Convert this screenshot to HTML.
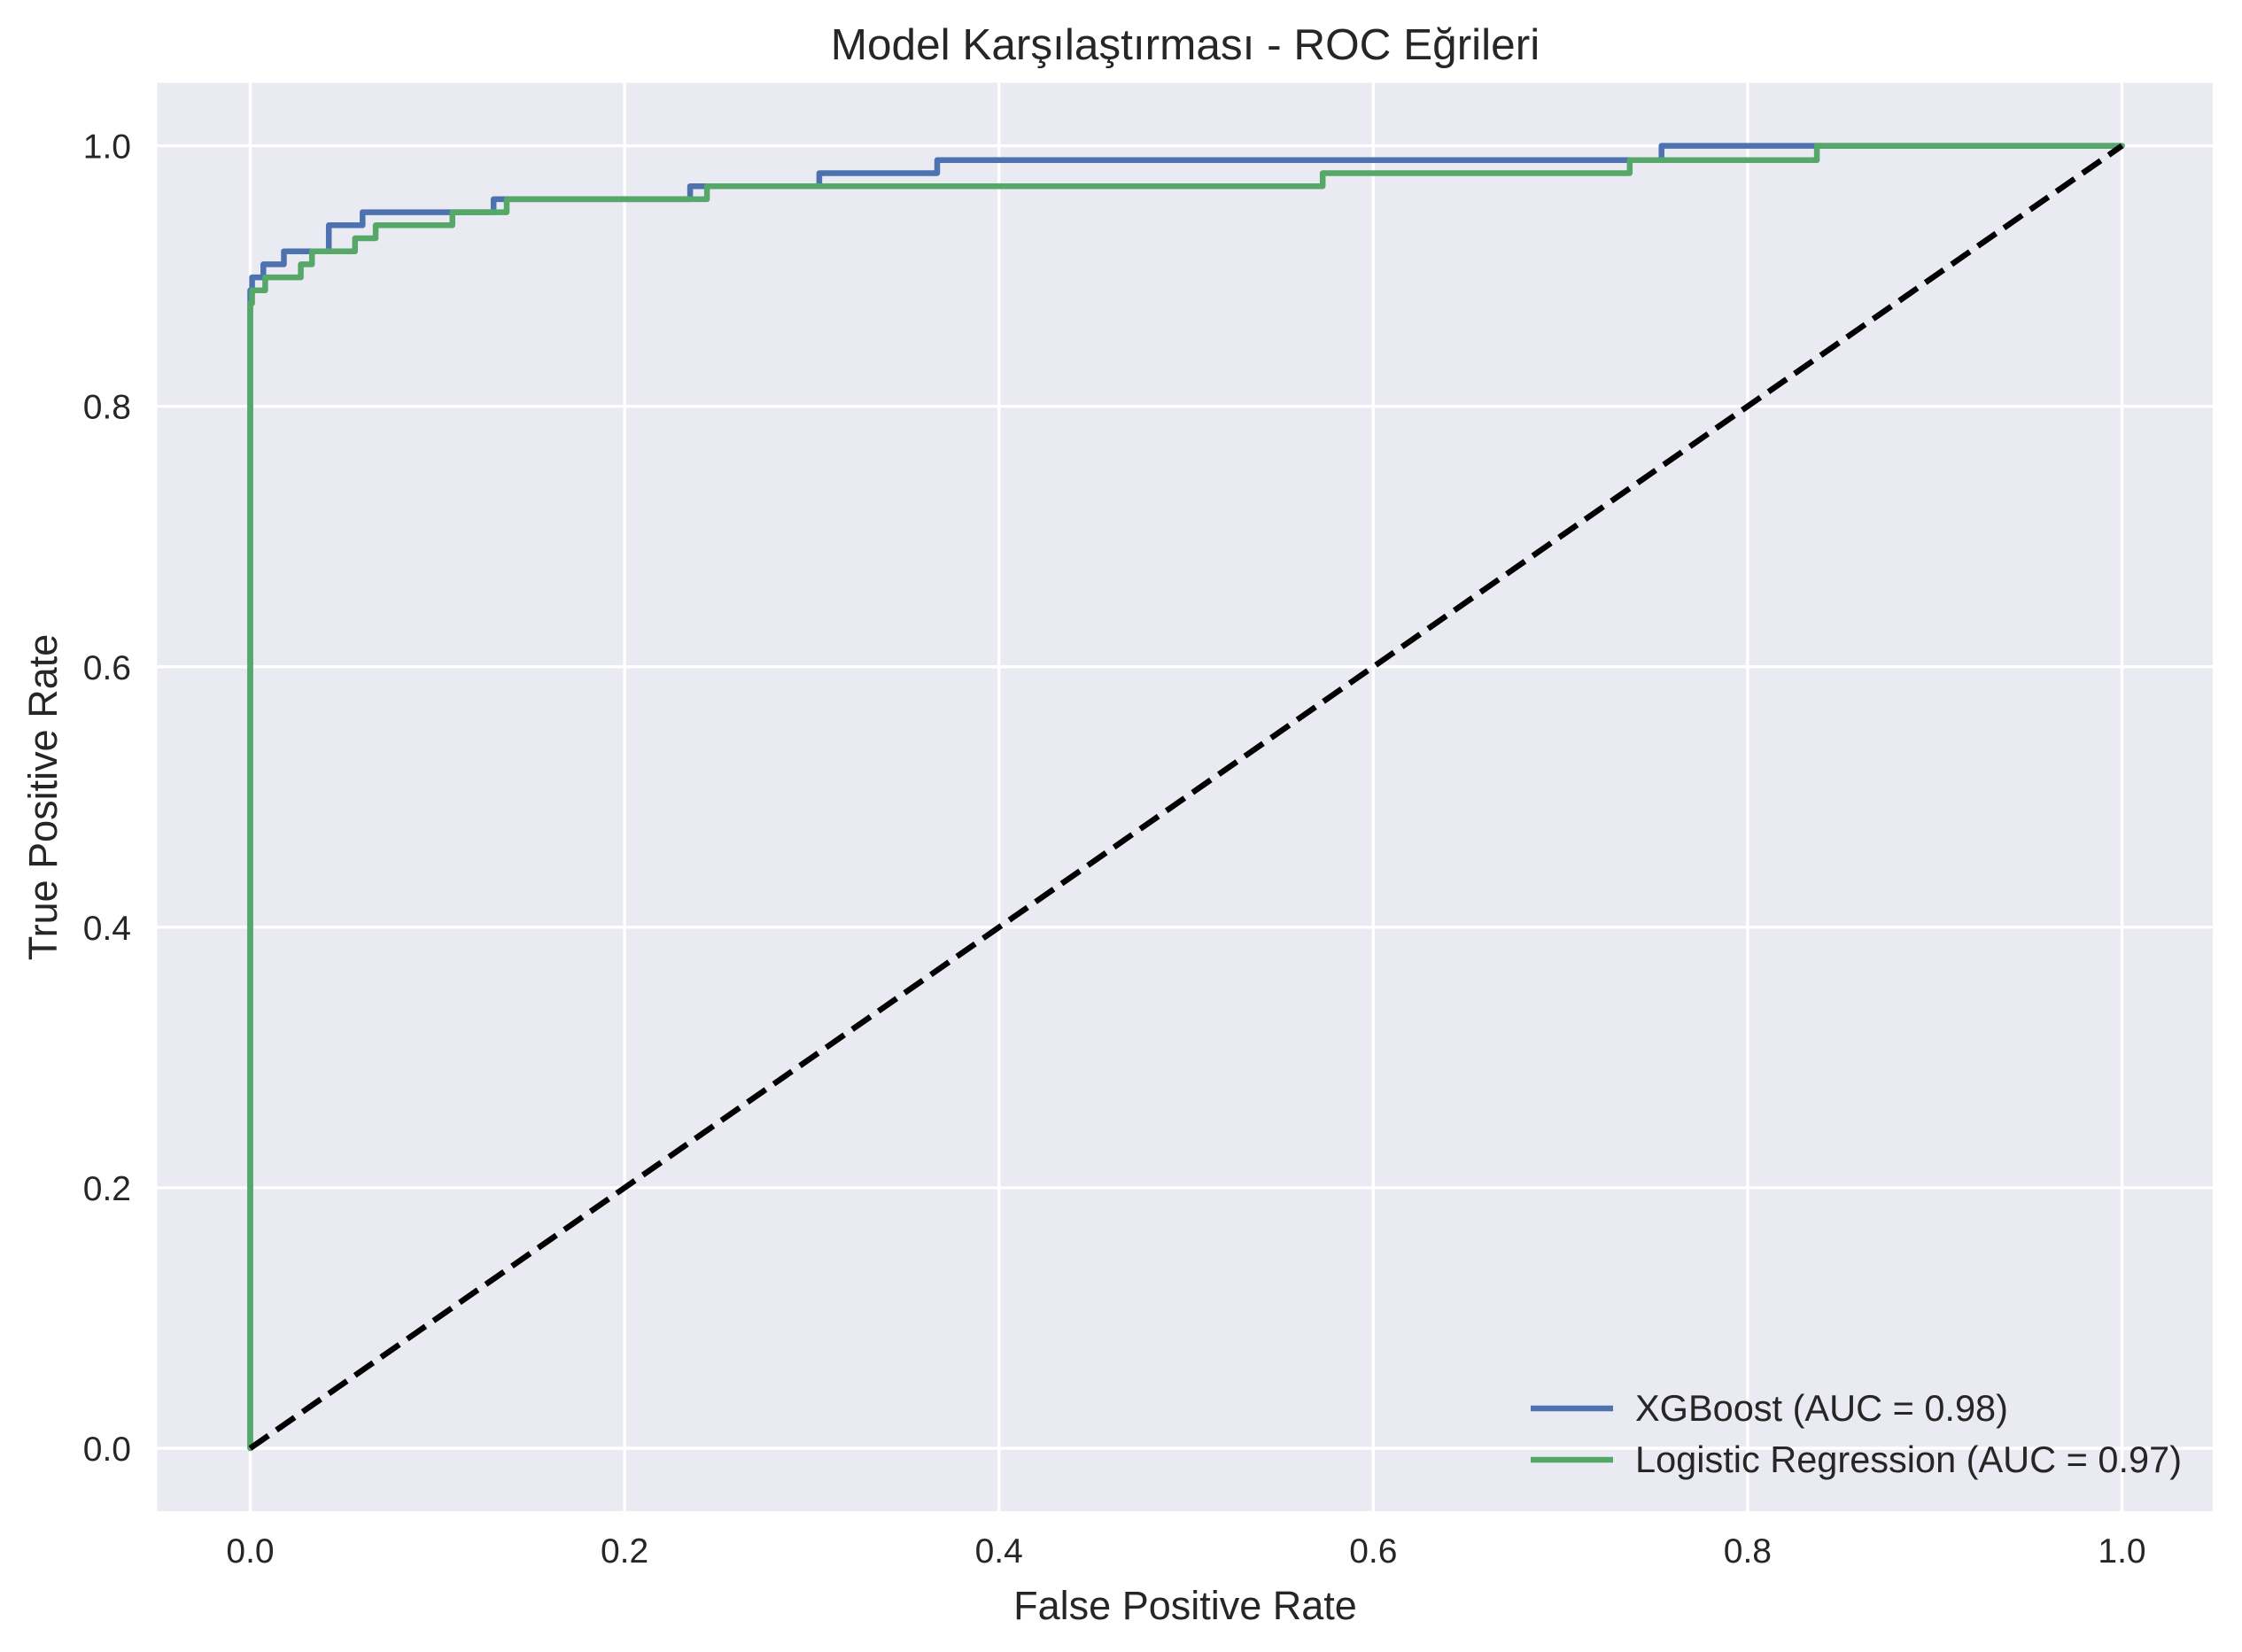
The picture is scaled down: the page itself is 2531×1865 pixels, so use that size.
<!DOCTYPE html>
<html><head><meta charset="utf-8"><style>html,body{margin:0;padding:0;background:#fff}svg{display:block}text{font-family:"Liberation Sans","DejaVu Sans",sans-serif;fill:#262626}</style></head>
<body>
<svg id="chart" width="2531" height="1865" viewBox="0 0 2531 1865" xmlns="http://www.w3.org/2000/svg">
<rect x="177.5" y="93.6" width="2320.5" height="1612.4" fill="#eaeaf2"/>
<g id="grid"></g>
<g id="series"></g>
<g id="ticks"></g>
<text x="1338" y="67" font-size="49.5" text-anchor="middle">Model Karşılaştırması - ROC Eğrileri</text>
<text x="1338" y="1828" font-size="45" text-anchor="middle">False Positive Rate</text>
<text x="0" y="0" font-size="45" text-anchor="middle" transform="translate(64,900) rotate(-90)">True Positive Rate</text>
<g>
<line x1="1728" y1="1590" x2="1821" y2="1590" stroke="#4c72b0" stroke-width="6.5"/>
<text x="1846" y="1604" font-size="41.5">XGBoost (AUC = 0.98)</text>
<line x1="1728" y1="1648" x2="1821" y2="1648" stroke="#55a868" stroke-width="6.5"/>
<text x="1846" y="1662" font-size="41.5">Logistic Regression (AUC = 0.97)</text>
</g>
</svg>
<script>
const xTicks=[0,0.2,0.4,0.6,0.8,1.0];
const yTicks=[0,0.2,0.4,0.6,0.8,1.0];
const tickLabels=["0.0","0.2","0.4","0.6","0.8","1.0"];
const xgbFpr=[0,0,0.001,0.001,0.007,0.007,0.018,0.018,0.042,0.042,0.060,0.060,0.130,0.130,0.235,0.235,0.304,0.304,0.367,0.367,0.754,0.754,1.0];
const xgbTpr=[0,0.889,0.889,0.899,0.899,0.909,0.909,0.919,0.919,0.939,0.939,0.949,0.949,0.959,0.959,0.969,0.969,0.979,0.979,0.989,0.989,1.0,1.0];
const lrFpr=[0,0,0.001,0.001,0.008,0.008,0.027,0.027,0.033,0.033,0.056,0.056,0.067,0.067,0.108,0.108,0.137,0.137,0.244,0.244,0.573,0.573,0.737,0.737,0.837,0.837,1.0];
const lrTpr=[0,0.879,0.879,0.889,0.889,0.899,0.899,0.909,0.909,0.919,0.919,0.929,0.929,0.939,0.939,0.949,0.949,0.959,0.959,0.969,0.969,0.979,0.979,0.989,0.989,1.0,1.0];
const NS="http://www.w3.org/2000/svg";
function sx(v){return 282.5+v*2113;}
function sy(v){return 1635-v*1470.4;}
function mk(t,a,p){const e=document.createElementNS(NS,t);for(const k in a)e.setAttribute(k,a[k]);p.appendChild(e);return e;}
const grid=document.getElementById('grid'),ticks=document.getElementById('ticks'),ser=document.getElementById('series');
xTicks.forEach((v,i)=>{
 const l=mk('line',{x1:sx(v),x2:sx(v),y1:93.6,y2:1706,stroke:'#fff','stroke-width':3.4},grid);
 
 
 const t=mk('text',{x:sx(v),y:1764,'font-size':39,'text-anchor':'middle'},ticks);
 t.textContent=tickLabels[i];
 
 
});
yTicks.forEach((v,i)=>{
 const l=mk('line',{x1:177.5,x2:2498,y1:sy(v),y2:sy(v),stroke:'#fff','stroke-width':3.4},grid);
 
 
 const t=mk('text',{x:148,y:sy(v)+14,'font-size':39,'text-anchor':'end'},ticks);
 t.textContent=tickLabels[i];
 
 
});
function path(xs,ys){return xs.map((x,i)=>(i?'L':'M')+sx(x).toFixed(1)+' '+sy(ys[i]).toFixed(1)).join(' ');}
const p1=mk('path',{d:path(xgbFpr,xgbTpr),fill:'none',stroke:'#4c72b0','stroke-width':6.5,'stroke-linejoin':'round','stroke-linecap':'round'},ser);


const p2=mk('path',{d:path(lrFpr,lrTpr),fill:'none',stroke:'#55a868','stroke-width':6.5,'stroke-linejoin':'round','stroke-linecap':'round'},ser);


const d=mk('line',{x1:sx(0),y1:sy(0),x2:sx(1),y2:sy(1),stroke:'#000','stroke-width':6.5,'stroke-dasharray':'25 11'},ser);


</script>
</body></html>
